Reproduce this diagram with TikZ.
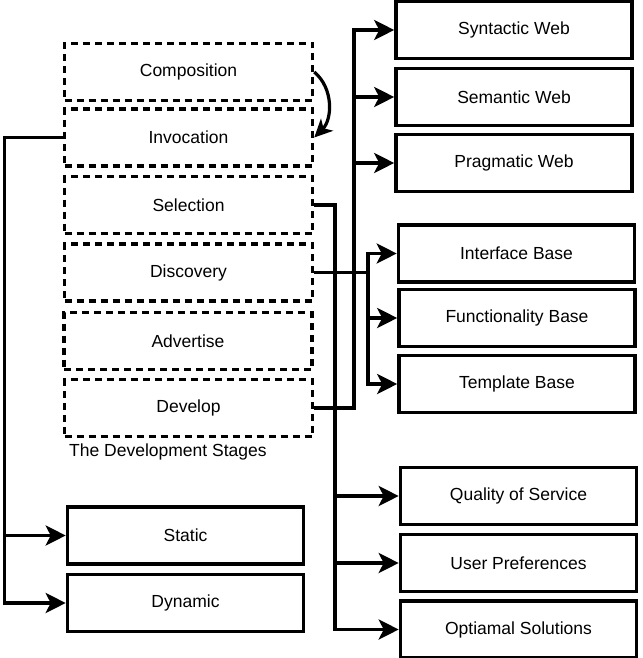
\documentclass[tikz,border=0pt]{standalone}
\usepackage{fontspec}
\setmainfont{Liberation Sans}
\usetikzlibrary{positioning}
\usetikzlibrary{arrows.meta}
\tikzset{
    stagenode/.style = {rectangle, line width=3.5pt, draw=black, dash pattern=on 7pt off 5pt, minimum width=248pt, minimum height=57pt, inner sep=0pt, align=center, font=\fontsize{17.5}{21}\selectfont, text=black},
    itemnode/.style = {rectangle, line width=3.6pt, draw=black, minimum width=236pt, minimum height=57pt, inner sep=0pt, align=center, font=\fontsize{17.5}{21}\selectfont, text=black},
    labelnode/.style = {inner sep=0pt, font=\fontsize{17.5}{21}\selectfont, text=black},
    edgen/.style = {-, line width=3.6pt, black},
    edgea/.style = {-{Stealth[length=20pt,width=20pt,inset=5pt]}, line width=3.6pt, black},
    edgec/.style = {-{Stealth[length=18pt,width=17pt,inset=5pt]}, line width=3.2pt, black}, % bend
}

\begin{document}
\begin{tikzpicture}[x=1pt,y=-1pt]
\clip (0,0) rectangle (642,658);
% stages
\node[stagenode] at (188.5,  72.0) (comp)   {Composition};
\node[stagenode] at (188.5, 137.5) (invoc)  {Invocation};
\node[stagenode] at (188.5, 205.0) (select) {Selection};
\node[stagenode] at (188.5, 272.5) (discov) {Discovery};
\node[stagenode] at (188.0, 341.0) (advert) {Advertise};
\node[stagenode] at (188.5, 408.0) (devel)  {Develop};
\node[labelnode, anchor=west] at (69, 452) (stagelbl) {The Development Stages};
% right column
\node[itemnode] at (514.0,  30.0) (synweb)   {Syntactic Web};
\node[itemnode] at (514.0,  97.0) (semweb)   {Semantic Web};
\node[itemnode] at (514.0, 163.0) (pragweb)  {Pragmatic Web};
\node[itemnode] at (516.5, 253.5) (ifbase)   {Interface Base};
\node[itemnode] at (517.0, 318.0) (funcbase) {Functionality Base};
\node[itemnode] at (517.0, 384.0) (tmplbase) {Template Base};
\node[itemnode] at (518.5, 496.0) (qos)      {Quality of Service};
\node[itemnode] at (518.5, 563.0) (userpref) {User Preferences};
\node[itemnode] at (518.5, 629.5) (optsol)   {Optiamal Solutions};
% left bottom
\node[itemnode] at (185.5, 535.5) (static)  {Static};
\node[itemnode] at (185.5, 603.0) (dynamic) {Dynamic};
% buses
\coordinate (lbus) at (4.5, 0);
\coordinate (sbus) at (335, 0);
\coordinate (dbus) at (354, 0);
\coordinate (cbus) at (368, 0);
% invocation
\draw[edgea] (invoc.west) -- (invoc.west -| lbus) |- (static.west);
\draw[edgea] (invoc.west -| lbus) |- (dynamic.west);
% develop
\draw[edgea] (devel.east) -- (devel.east -| dbus) |- (synweb.west);
\draw[edgea] (devel.east -| dbus) |- (semweb.west);
\draw[edgea] (devel.east -| dbus) |- (pragweb.west);
% discovery
\draw[edgea] (discov.east) -- (discov.east -| cbus) |- (ifbase.west);
\draw[edgea] (discov.east -| cbus) |- (funcbase.west);
\draw[edgea] (discov.east -| cbus) |- (tmplbase.west);
% selection
\draw[edgea] (select.east) -- (select.east -| sbus) |- (qos.west);
\draw[edgea] (select.east -| sbus) |- (userpref.west);
\draw[edgea] (select.east -| sbus) |- (optsol.west);
% composition to invocation
\draw[edgec] (comp.east) to[out=-40, in=45] (invoc.east);

\end{tikzpicture}
\end{document}
